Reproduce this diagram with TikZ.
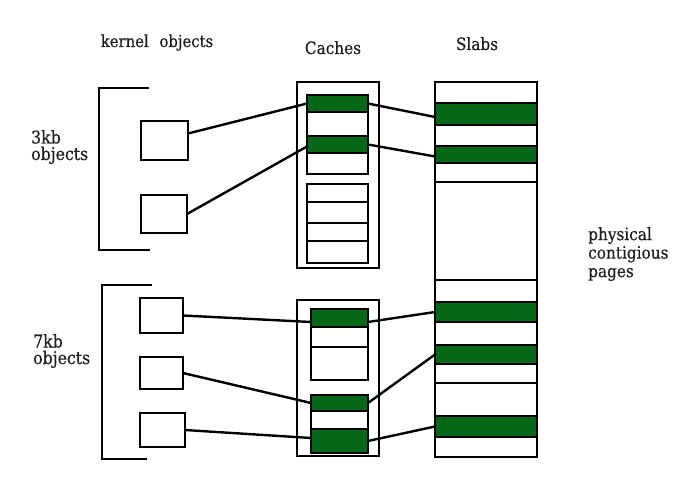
\documentclass[tikz,border=0pt]{standalone}
\usepackage{fontspec}
\setmainfont{DejaVu Serif Condensed}
\newfontfamily\labelfont[UprightFeatures={FakeBold=0.4}]{DejaVu Serif Condensed}
\definecolor{slabgreen}{RGB}{8,102,24}
\definecolor{txt}{RGB}{30,30,30}
\newcommand\mkbox[6]{\node[#1, minimum width={#4-#2}, minimum height={#5-#3}] (#6) at ({(#2+#4)/2},{(#3+#5)/2}) {};}
\begin{document}
\begin{tikzpicture}[x=1pt,y=-1pt,
  box/.style={draw, line width=2.4pt, inner sep=0pt, outer sep=0pt, fill=white},
  gbox/.style={box, fill=slabgreen},
  link/.style={line width=2.4pt},
  lbl/.style={font=\labelfont\fontsize{17}{18.5}\selectfont, text=txt, inner sep=0pt, align=left},
  side/.style={font=\labelfont\fontsize{17.5}{16.5}\selectfont, text=txt, inner sep=0pt, align=left}]
\useasboundingbox[fill=white] (0,0) rectangle (700,489);
% titles
\node[lbl, anchor=base, font=\labelfont\fontsize{16.5}{18}\selectfont] (tk) at (157,47) {kernel\hspace{6pt} objects};
\node[lbl, anchor=base] (tc) at (333,54) {Caches};
\node[lbl, anchor=base] (ts) at (477,50) {Slabs};
\node[side, anchor=north west] (t3) at (31,130) {3kb\\objects};
\node[side, anchor=north west] (t7) at (33,334) {7kb\\objects};
\node[lbl, anchor=north west] (tp) at (588,227) {physical\\contigious\\pages};
% brackets
\draw[link] (149,88) -| (99,250) -- (150,250);
\draw[link] (152,285) -| (102,459) -- (147,459);
% objects
\mkbox{box}{141}{121}{188}{160}{o1}
\mkbox{box}{141}{195}{187}{233}{o2}
\mkbox{box}{140}{298}{183}{333}{o3}
\mkbox{box}{140}{357}{183}{389}{o4}
\mkbox{box}{140}{413}{185}{447}{o5}
% cache 1
\mkbox{box}{297}{82}{379}{268}{c1}
\mkbox{gbox}{307}{95}{368}{112}{c1g1}
\mkbox{box}{307}{112}{368}{136}{c1w1}
\mkbox{gbox}{307}{136}{368}{153}{c1g2}
\mkbox{box}{307}{153}{368}{174}{c1w2}
\mkbox{box}{307}{184}{368}{202}{c1e1}
\mkbox{box}{307}{202}{368}{223}{c1e2}
\mkbox{box}{307}{223}{368}{241}{c1e3}
\mkbox{box}{307}{241}{368}{263}{c1e4}
% cache 2
\mkbox{box}{297}{300}{379}{456}{c2}
\mkbox{gbox}{311}{309}{368}{327}{c2g1}
\mkbox{box}{311}{327}{368}{347}{c2w1}
\mkbox{box}{311}{347}{368}{380}{c2w2}
\mkbox{gbox}{311}{395}{368}{411}{c2g2}
\mkbox{box}{311}{411}{368}{429}{c2w3}
\mkbox{gbox}{311}{429}{368}{453}{c2g3}
% slabs
\mkbox{box}{435}{82}{537}{103}{sw0}
\mkbox{gbox}{435}{103}{537}{125}{s1}
\mkbox{box}{435}{125}{537}{146}{sw1}
\mkbox{gbox}{435}{146}{537}{163}{s2}
\mkbox{box}{435}{163}{537}{182}{sw2}
\mkbox{box}{435}{182}{537}{280}{sw3}
\mkbox{box}{435}{280}{537}{302}{sw4}
\mkbox{gbox}{435}{302}{537}{322}{s3}
\mkbox{box}{435}{322}{537}{345}{sw5}
\mkbox{gbox}{435}{345}{537}{364}{s4}
\mkbox{box}{435}{364}{537}{383}{sw6}
\mkbox{box}{435}{383}{537}{416}{sw7}
\mkbox{gbox}{435}{416}{537}{437}{s5}
\mkbox{box}{435}{437}{537}{457}{sw8}
% connectors objects -> caches
\draw[link] ([yshift=7pt]o1.east) -- (c1g1.west);
\draw[link] (o2.east) -- ([yshift=-2pt]c1g2.west);
\draw[link] (o3.east) -- ([yshift=-4pt]c2g1.west);
\draw[link] (o4.east) -- (c2g2.west);
\draw[link] (o5.east) -- ([yshift=3pt]c2g3.west);
% connectors caches -> slabs
\draw[link] (c1g1.east) -- ([yshift=-3pt]s1.west);
\draw[link] (c1g2.east) -- ([yshift=-2pt]s2.west);
\draw[link] ([yshift=-4pt]c2g1.east) -- (s3.west);
\draw[link] (c2g2.east) -- (s4.west);
\draw[link] (c2g3.east) -- (s5.west);
\end{tikzpicture}
\end{document}
